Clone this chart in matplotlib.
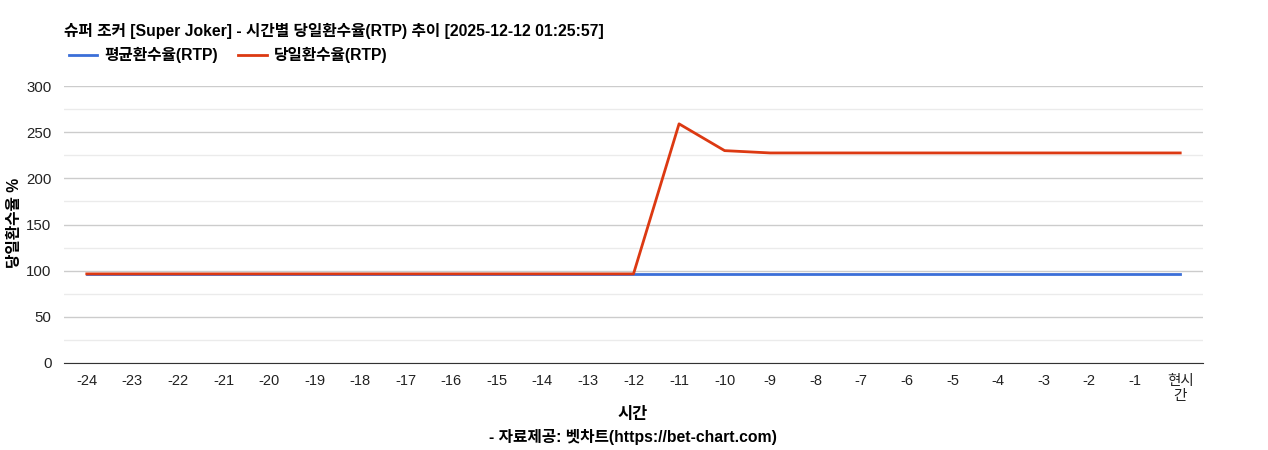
import matplotlib
matplotlib.use("Agg")
import matplotlib.pyplot as plt
from matplotlib.ticker import MultipleLocator

plt.rcParams['font.family'] = ['Liberation Sans', 'Noto Sans CJK KR', 'DejaVu Sans']

categories = [str(i) for i in range(-24, 0)] + ["현시\n간"]
avg_rtp = [96.5] * 25
today_rtp = [96.5] * 13 + [259, 230, 227.5] + [227.5] * 9

title = "슈퍼 조커 [Super Joker] - 시간별 당일환수율(RTP) 추이 [2025-12-12 01:25:57]"

fig = plt.figure(figsize=(12.68, 4.5), dpi=100)
ax = fig.add_axes([64/1268, 1-363/450, (1203-64)/1268, (363-86)/450])

x = list(range(len(categories)))
l1, = ax.plot(x, avg_rtp, color='#3b6fd8', lw=2, label='평균환수율(RTP)', zorder=3)
l2, = ax.plot(x, today_rtp, color='#dc3912', lw=2, label='당일환수율(RTP)', zorder=4)

ax.set_xlim(-0.5, len(categories) - 0.5)
ax.set_ylim(0, 300)
ax.yaxis.set_major_locator(MultipleLocator(50))
ax.yaxis.set_minor_locator(MultipleLocator(25))
ax.grid(which='major', axis='y', color='#cccccc', lw=1)
ax.grid(which='minor', axis='y', color='#ebebeb', lw=1)
ax.set_axisbelow(True)
for s in ['top', 'right', 'left']:
    ax.spines[s].set_visible(False)
ax.spines['bottom'].set_color('#333333')
ax.set_xticks(x)
ax.set_xticklabels(categories, fontsize=10.5, color='#222222', linespacing=1.1)
ax.tick_params(axis='both', length=0, pad=8)
ax.tick_params(axis='y', labelsize=10.8, labelcolor='#222222', which='both', pad=9)
ax.tick_params(axis='y', which='minor', length=0)

fig.text(64/1268, 1-31/450, title, fontsize=11.3, fontweight='bold', va='center', ha='left')
fig.legend(handles=[l1, l2], loc='center left', bbox_to_anchor=(58/1268, 1-55/450),
           ncol=2, frameon=False, prop={'weight': 'bold', 'size': 11.3},
           handlelength=1.8, columnspacing=1.3, handletextpad=0.45, borderpad=0.2)
fig.text(14/1268, 1-223/450, '당일환수율 %', rotation=90, fontsize=11.3, fontweight='bold', va='center', ha='center')
fig.text(633/1268, 1-415/450, '시간', fontsize=11.8, fontweight='bold', va='center', ha='center')
fig.text(633/1268, 1-437/450, '- 자료제공: 벳차트(https://bet-chart.com)', fontsize=11.3, fontweight='bold', va='center', ha='center')

fig.savefig('out.png', dpi=100)
